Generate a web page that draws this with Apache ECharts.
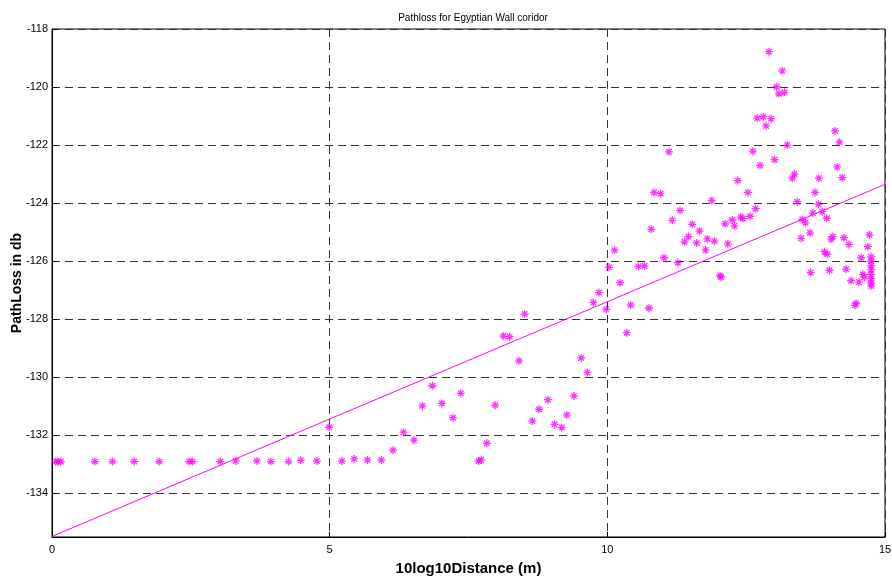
<!DOCTYPE html>
<html>
<head>
<meta charset="utf-8">
<title>Pathloss for Egyptian Wall coridor</title>
<script src="https://cdn.jsdelivr.net/npm/echarts@6/dist/echarts.min.js"></script>
<style>
  html, body { margin: 0; padding: 0; background: #fff; }
  #chart { width: 892px; height: 584px; }
</style>
</head>
<body>
<div id="chart"></div>
<script>
// Measured samples: 10log10 of distance (m) and path loss (dB)
const distance = [
  0.07, 0.11, 0.16, 0.77, 1.09, 1.48, 1.93, 2.47, 2.53, 3.03,
  3.31, 3.69, 3.94, 4.26, 4.48, 4.77, 4.99, 5.22, 5.44, 5.68,
  5.93, 6.14, 6.33, 6.52, 6.67, 6.85, 7.02, 7.22, 7.36, 7.68,
  7.73, 7.83, 7.98, 8.13, 8.24, 8.41, 8.51, 8.65, 8.77, 8.93,
  9.05, 9.18, 9.27, 9.40, 9.53, 9.64, 9.75, 9.85, 9.98, 10.03,
  10.13, 10.23, 10.35, 10.42, 10.56, 10.67, 10.75, 10.79, 10.84, 10.96,
  11.02, 11.11, 11.17, 11.27, 11.31, 11.39, 11.46, 11.53, 11.61, 11.66,
  11.77, 11.80, 11.88, 11.93, 12.03, 12.05, 12.12, 12.17, 12.25, 12.29,
  12.35, 12.40, 12.44, 12.53, 12.57, 12.62, 12.67, 12.70, 12.75, 12.81,
  12.86, 12.91, 12.95, 13.01, 13.05, 13.09, 13.15, 13.19, 13.24, 13.33,
  13.37, 13.42, 13.49, 13.51, 13.57, 13.65, 13.66, 13.70, 13.74, 13.80,
  13.81, 13.87, 13.91, 13.95, 13.96, 14.00, 14.03, 14.06, 14.10, 14.14,
  14.18, 14.23, 14.26, 14.30, 14.35, 14.39, 14.46, 14.48, 14.53, 14.57,
  14.60, 14.63, 14.69, 14.72, 14.75, 14.75, 14.75, 14.75, 14.75, 14.75,
  14.75, 14.75
];
const pathLoss = [
  -132.90, -132.92, -132.90, -132.90, -132.90, -132.90, -132.90, -132.90, -132.90, -132.90,
  -132.88, -132.88, -132.90, -132.90, -132.86, -132.88, -131.72, -132.88, -132.81, -132.85,
  -132.85, -132.51, -131.89, -132.16, -130.98, -130.29, -130.90, -131.39, -130.55, -132.88,
  -132.85, -132.27, -130.96, -128.58, -128.60, -129.43, -127.82, -131.50, -131.10, -130.77,
  -131.62, -131.73, -131.30, -130.64, -129.33, -129.83, -127.42, -127.08, -127.66, -126.21,
  -125.62, -126.74, -128.46, -127.51, -126.18, -126.16, -127.62, -124.90, -123.63, -123.67,
  -125.88, -122.23, -124.59, -126.05, -124.25, -125.33, -125.15, -124.73, -125.37, -124.96,
  -125.61, -125.23, -123.91, -125.31, -126.50, -126.55, -124.71, -125.40, -124.58, -124.78,
  -123.22, -124.48, -124.53, -123.63, -124.45, -122.21, -124.19, -121.07, -122.70, -121.02,
  -121.34, -118.78, -121.09, -122.50, -119.99, -120.23, -119.44, -120.18, -122.00, -123.14,
  -123.00, -123.95, -125.21, -124.56, -124.67, -125.02, -126.39, -124.34, -123.63, -124.04,
  -123.14, -124.29, -125.67, -124.52, -125.76, -126.31, -125.24, -125.15, -121.51, -122.75,
  -121.90, -123.12, -125.19, -126.27, -125.42, -126.67, -127.52, -127.45, -126.72, -125.88,
  -126.45, -126.55, -125.50, -125.09, -125.85, -126.00, -126.15, -126.30, -126.45, -126.60,
  -126.75, -126.85
];

// Least-squares fit line endpoints (x, dB)
const fitLine = [[0, -135.48], [15, -123.35]];

// Axis ticks
const xTicks = [0, 5, 10, 15];
const yTicks = [-134, -132, -130, -128, -126, -124, -122, -120, -118];

const points = distance.map((d, i) => [d, pathLoss[i]]);

const asterisk = 'path://M0,-4L0,4M-4,0L4,0M-2.8,-2.8L2.8,2.8M-2.8,2.8L2.8,-2.8';
const gridDash = { color: '#333', type: [8, 5], width: 1 };
const tickFont = { color: '#000', fontSize: 11, fontFamily: 'Liberation Sans, Arial, sans-serif' };

const chart = echarts.init(document.getElementById('chart'), null, { renderer: 'canvas' });

chart.setOption({
  animation: false,
  backgroundColor: '#fff',
  title: {
    text: 'Pathloss for Egyptian Wall coridor',
    left: 468,
    textAlign: 'center',
    top: 8,
    textStyle: { fontSize: 10, fontWeight: 'normal', color: '#000', fontFamily: 'Liberation Sans, Arial, sans-serif' }
  },
  grid: {
    left: 52, right: 7, top: 29, bottom: 47,
    outerBoundsMode: 'none',
    containLabel: false,
    show: true, borderColor: '#000', borderWidth: 1, backgroundColor: 'transparent'
  },
  xAxis: {
    type: 'value',
    min: xTicks[0], max: xTicks[xTicks.length - 1], interval: 5,
    name: '10log10Distance (m)',
    nameLocation: 'middle',
    nameGap: 24,
    nameTextStyle: { fontSize: 15, fontWeight: 'bold', color: '#000', fontFamily: 'Liberation Sans, Arial, sans-serif' },
    axisLine: { show: true, lineStyle: { color: '#000', width: 1 } },
    axisTick: { show: true, inside: true, length: 5, lineStyle: { color: '#000' } },
    axisLabel: Object.assign({ margin: 7 }, tickFont),
    splitLine: { show: true, lineStyle: gridDash }
  },
  yAxis: {
    type: 'value',
    min: -135.5, max: -118,
    name: 'PathLoss in db',
    nameLocation: 'middle',
    nameGap: 28,
    nameMoveOverlap: false,
    nameTextStyle: { fontSize: 14, fontWeight: 'bold', color: '#000', fontFamily: 'Liberation Sans, Arial, sans-serif' },
    axisLine: { show: true, lineStyle: { color: '#000', width: 1 } },
    axisTick: { show: true, inside: true, length: 5, customValues: yTicks, lineStyle: { color: '#000' } },
    axisLabel: Object.assign({ margin: 4, customValues: yTicks }, tickFont),
    splitLine: { show: true, lineStyle: gridDash }
  },
  series: [
    {
      name: 'measured',
      type: 'scatter',
      data: points,
      symbol: asterisk,
      symbolSize: 8,
      itemStyle: { color: 'none', borderColor: '#ff00ff', borderWidth: 1.3 },
      z: 3
    },
    {
      name: 'fit',
      type: 'line',
      data: fitLine,
      symbol: 'none',
      lineStyle: { color: '#ff00ff', width: 1 },
      z: 2
    }
  ]
});
</script>
</body>
</html>
